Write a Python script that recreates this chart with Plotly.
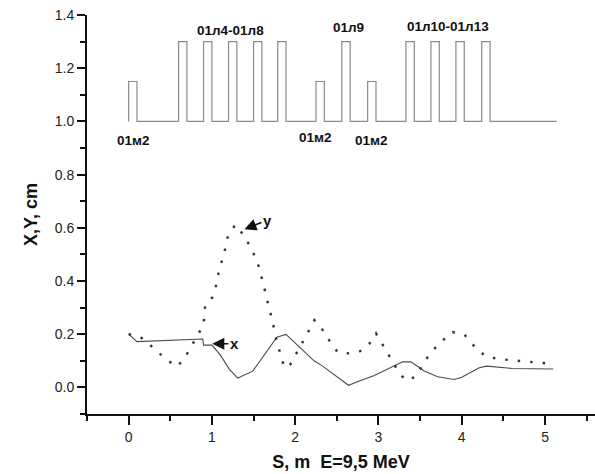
import plotly.graph_objects as go

# --- Beam envelopes along the channel ---
s_x = [0.00, 0.10, 0.89, 0.90, 1.00, 1.10, 1.21, 1.31, 1.49, 1.78, 1.89,
       2.23, 2.33, 2.64, 2.77, 2.95, 3.29, 3.39, 3.55, 3.71, 3.91, 4.00,
       4.21, 4.30, 4.61, 5.10]
env_x = [0.200, 0.172, 0.182, 0.159, 0.159, 0.122, 0.068, 0.035, 0.061, 0.189, 0.199,
         0.099, 0.080, 0.008, 0.024, 0.045, 0.096, 0.096, 0.062, 0.040, 0.030, 0.038,
         0.074, 0.080, 0.071, 0.069]

s_y = [0.00, 0.14, 0.28, 0.42, 0.57, 0.66, 0.74, 0.83, 0.90, 0.92, 1.01, 1.05,
       1.08, 1.12, 1.16, 1.19, 1.28, 1.37, 1.46, 1.53, 1.58, 1.61, 1.65, 1.68,
       1.72, 1.75, 1.78, 1.82, 1.86, 1.92, 2.00, 2.08, 2.15, 2.23, 2.32, 2.41,
       2.51, 2.64, 2.78, 2.89, 2.97, 3.05, 3.14, 3.22, 3.32, 3.44, 3.53, 3.62,
       3.75, 3.89, 4.03, 4.15, 4.28, 4.42, 4.57, 4.71, 4.85, 5.00, 5.10]
env_y = [0.200, 0.190, 0.153, 0.114, 0.078, 0.102, 0.149, 0.195, 0.239, 0.310, 0.340, 0.384,
         0.430, 0.474, 0.522, 0.566, 0.612, 0.577, 0.530, 0.483, 0.439, 0.393, 0.349, 0.305,
         0.260, 0.215, 0.171, 0.128, 0.084, 0.074, 0.118, 0.164, 0.205, 0.253, 0.220, 0.176,
         0.132, 0.128, 0.136, 0.164, 0.203, 0.161, 0.114, 0.070, 0.027, 0.039, 0.084, 0.128,
         0.171, 0.208, 0.199, 0.155, 0.118, 0.108, 0.103, 0.099, 0.095, 0.091, 0.088]

# --- Channel layout: magnets (01м2) and lenses (01л...) ---
magnet_start = [0.00, 2.25, 2.87]
lens_start = [0.60, 0.90, 1.20, 1.50, 1.79, 2.56, 3.33, 3.63, 3.93, 4.24]
element_len = 0.10
magnet_level = 1.15
lens_level = 1.30
base_level = 1.00
channel_end = 5.14

labels = ["01м2", "01л4-01л8", "01л9", "01м2", "01м2", "01л10-01л13"]
label_s = [0.06, 1.22, 2.64, 2.24, 2.92, 3.84]
label_v = [0.93, 1.34, 1.352, 0.938, 0.928, 1.355]

# Build the step profile of the lattice from the element lists
elements = sorted([(s, magnet_level) for s in magnet_start] +
                  [(s, lens_level) for s in lens_start])
lat_s, lat_v = [], []
for s0, h in elements:
    s1 = s0 + element_len
    lat_s += [s0, s0, s1, s1]
    lat_v += [base_level, h, h, base_level]
lat_s.append(channel_end)
lat_v.append(base_level)

fig = go.Figure()
fig.add_trace(go.Scatter(x=lat_s, y=lat_v, mode="lines",
                         line=dict(color="#8a8a8a", width=1.2), hoverinfo="skip"))
fig.add_trace(go.Scatter(x=s_x, y=env_x, mode="lines",
                         line=dict(color="#4a4a4a", width=1.1), hoverinfo="skip"))
fig.add_trace(go.Scatter(x=s_y, y=env_y, mode="lines",
                         line=dict(color="#333333", width=2.4, dash="2.5px,10px"),
                         hoverinfo="skip"))

font_bold = dict(family="Arial, Liberation Sans, sans-serif", size=13.5, color="#111")
for t, s, v in zip(labels, label_s, label_v):
    fig.add_annotation(x=s, y=v, text=f"<b>{t}</b>", showarrow=False, font=font_bold)

arrow_font = dict(family="Arial, Liberation Sans, sans-serif", size=15, color="#111")
fig.add_annotation(x=1.39, y=0.595, text="<b>y</b>", showarrow=True, ax=23, ay=-9,
                   arrowhead=2, arrowsize=1.6, arrowwidth=1.5, arrowcolor="#111",
                   font=arrow_font, standoff=0)
fig.add_annotation(x=1.005, y=0.164, text="<b>x</b>", showarrow=True, ax=22, ay=0,
                   arrowhead=2, arrowsize=1.6, arrowwidth=1.5, arrowcolor="#111",
                   font=arrow_font, standoff=0)

tick_font = dict(family="Arial, Liberation Sans, sans-serif", size=14, color="#222")
title_font = dict(family="Arial, Liberation Sans, sans-serif", size=18, color="#111")

fig.update_layout(
    width=595, height=474,
    margin=dict(l=87, r=0, t=15, b=60),
    paper_bgcolor="white", plot_bgcolor="white",
    showlegend=False,
    xaxis=dict(range=[-0.5, 5.6], tickmode="array", tickvals=[0, 1, 2, 3, 4, 5],
               ticktext=["0", "1", "2", "3", "4", "5"],
               showgrid=False, zeroline=False, showline=True, linecolor="#111",
               linewidth=2, ticks="outside", ticklen=9, tickwidth=1.6, tickcolor="#111",
               tickfont=tick_font,
               minor=dict(tickmode="array", tickvals=[-0.5, 0.5, 1.5, 2.5, 3.5, 4.5, 5.5],
                          ticks="outside", ticklen=5, tickwidth=1.6, tickcolor="#111"),
               title=dict(text="<b>S, m  E=9,5 MeV</b>", font=title_font, standoff=12)),
    yaxis=dict(range=[-0.1, 1.4], tickmode="array",
               tickvals=[0.0, 0.2, 0.4, 0.6, 0.8, 1.0, 1.2, 1.4],
               ticktext=["0.0", "0.2", "0.4", "0.6", "0.8", "1.0", "1.2", "1.4"],
               showgrid=False, zeroline=False, showline=True, linecolor="#111",
               linewidth=2, ticks="outside", ticklen=8, tickwidth=1.6, tickcolor="#111",
               tickfont=tick_font,
               minor=dict(tickmode="array",
                          tickvals=[-0.1, 0.1, 0.3, 0.5, 0.7, 0.9, 1.1, 1.3],
                          ticks="outside", ticklen=5, tickwidth=1.6, tickcolor="#111"),
               title=dict(text="<b>X,Y, cm</b>", font=title_font, standoff=12)),
)

fig.write_html("out.html")
